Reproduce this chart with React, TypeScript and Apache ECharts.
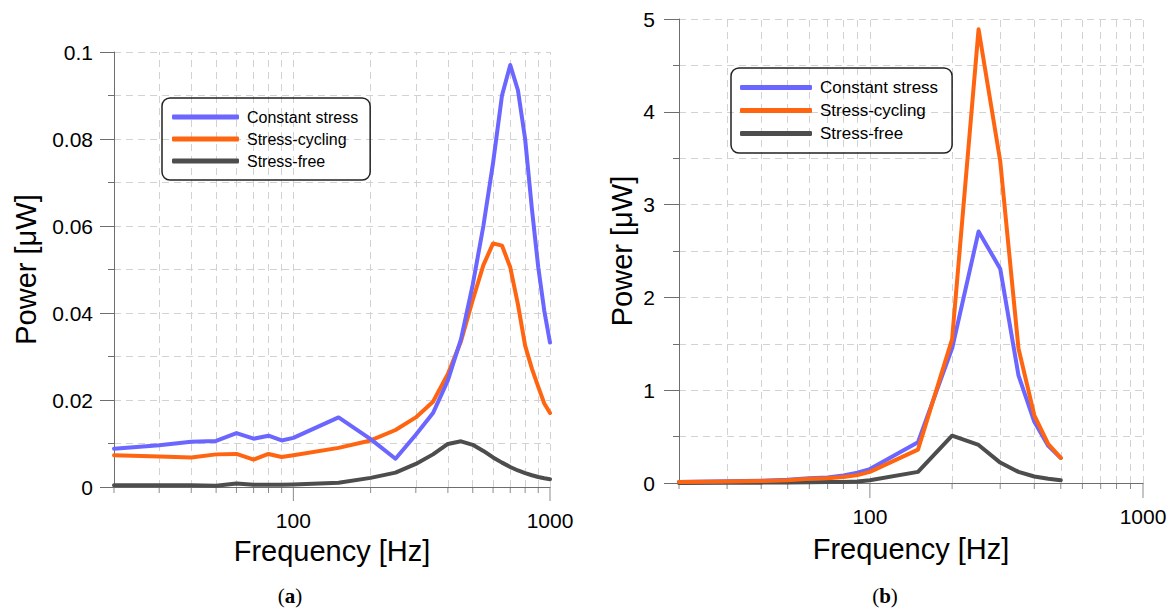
import React, { useEffect, useRef } from "react";
import * as echarts from "echarts";

// ---- data ----
const seriesNames = ["Constant stress", "Stress-cycling", "Stress-free"];
const seriesColors = ["#6b66ff", "#ff6510", "#4d4d4d"];

const freqA = [20, 30, 40, 50, 60, 70, 80, 90, 100, 150, 200, 250, 300, 350, 400, 450, 500, 550, 600, 650, 700, 750, 800, 850, 900, 950, 1000];
const constantA = [0.0088, 0.0096, 0.0104, 0.0106, 0.0124, 0.0111, 0.0118, 0.0107, 0.0113, 0.016, 0.011, 0.0065, 0.012, 0.017, 0.0245, 0.034, 0.0465, 0.06, 0.0745, 0.09, 0.097, 0.0912, 0.08, 0.064, 0.0505, 0.0405, 0.0332];
const cyclingA = [0.0073, 0.007, 0.0068, 0.0075, 0.0076, 0.0063, 0.0076, 0.0069, 0.0073, 0.009, 0.0107, 0.0131, 0.016, 0.0196, 0.026, 0.0335, 0.043, 0.051, 0.056, 0.0555, 0.0505, 0.042, 0.0325, 0.0272, 0.023, 0.0192, 0.017];
const freeA = [0.0004, 0.0004, 0.0004, 0.0003, 0.0008, 0.0005, 0.0005, 0.0005, 0.0006, 0.001, 0.0021, 0.0033, 0.0053, 0.0075, 0.0099, 0.0105, 0.0097, 0.0083, 0.0068, 0.0056, 0.0046, 0.0038, 0.0032, 0.0027, 0.0023, 0.002, 0.0018];

const freqB = [20, 30, 40, 50, 60, 70, 80, 90, 100, 150, 200, 250, 300, 350, 400, 450, 500];
const constantB = [0.012, 0.018, 0.025, 0.035, 0.05, 0.06, 0.08, 0.11, 0.15, 0.44, 1.45, 2.71, 2.31, 1.16, 0.66, 0.4, 0.27];
const cyclingB = [0.012, 0.017, 0.022, 0.03, 0.045, 0.05, 0.065, 0.085, 0.12, 0.36, 1.55, 4.89, 3.47, 1.45, 0.73, 0.42, 0.27];
const freeB = [0.0, 0.002, 0.004, 0.006, 0.008, 0.01, 0.012, 0.015, 0.03, 0.12, 0.51, 0.41, 0.22, 0.12, 0.07, 0.045, 0.03];

const gridFreqs = [30, 40, 50, 60, 70, 80, 90, 100, 200, 300, 400, 500, 600, 700, 800, 900, 1000];
const minorTickFreqs = [20, 30, 40, 50, 60, 70, 80, 90, 200, 300, 400, 500, 600, 700, 800, 900];
const majorTickFreqs = [100, 1000];
const xLabel = "Frequency [Hz]";
const yLabel = "Power [μW]";
const captions = ["a", "b"];

const AXIS_COLOR = "#6e6e6e";
const GRID_COLOR = "#d2d2d2";
const FONT = "'Liberation Sans', Arial, sans-serif";

function lineSeries(name: string, color: string, freqs: number[], vals: number[], idx: number) {
  return {
    type: "line",
    name,
    xAxisIndex: idx,
    yAxisIndex: idx,
    data: freqs.map((f, i) => [f, vals[i]]),
    showSymbol: false,
    symbol: "none",
    lineStyle: { width: 4, color, cap: "round", join: "round" },
    itemStyle: { color },
    z: 3,
  };
}

function helperSeries(idx: number, majorLen: number) {
  return [
    {
      type: "scatter",
      name: "minor-ticks-" + idx,
      xAxisIndex: idx,
      yAxisIndex: idx,
      data: minorTickFreqs.map((f) => [f, 0]),
      symbol: "rect",
      symbolSize: [1, 6],
      symbolOffset: [0, 3],
      itemStyle: { color: AXIS_COLOR },
      silent: true,
      clip: false,
      z: 2,
      markLine: {
        silent: true,
        symbol: ["none", "none"],
        label: { show: false },
        lineStyle: { color: GRID_COLOR, type: [7, 5], width: 1 },
        data: gridFreqs.map((f) => ({ xAxis: f })),
        z: 1,
      },
    },
    {
      type: "scatter",
      name: "major-ticks-" + idx,
      xAxisIndex: idx,
      yAxisIndex: idx,
      data: majorTickFreqs.map((f) => [f, 0]),
      symbol: "rect",
      symbolSize: [1, majorLen],
      symbolOffset: [0, majorLen / 2],
      itemStyle: { color: AXIS_COLOR },
      silent: true,
      clip: false,
      z: 2,
    },
  ];
}

function xAxis(idx: number, nameGap: number) {
  return {
    type: "log",
    logBase: 10,
    gridIndex: idx,
    min: 20,
    max: 1000,
    name: xLabel,
    nameLocation: "middle",
    nameGap,
    nameTextStyle: { fontSize: 29, color: "#000", fontFamily: FONT },
    axisLine: { show: true, lineStyle: { color: AXIS_COLOR, width: 1 } },
    axisTick: { show: false },
    splitLine: { show: false },
    minorTick: { show: false },
    axisLabel: {
      fontSize: 21,
      color: "#000",
      fontFamily: FONT,
      margin: 23,
      showMinLabel: true,
      showMaxLabel: true,
      formatter: (v: number) =>
        majorTickFreqs.some((m) => Math.abs(v - m) < 1e-6 * m) ? String(Math.round(v)) : "",
    },
  };
}

function yAxis(idx: number, max: number, interval: number, nameGap: number, tickLen: number, labelMargin: number) {
  return {
    type: "value",
    gridIndex: idx,
    min: 0,
    max,
    interval,
    name: yLabel,
    nameLocation: "middle",
    nameGap,
    nameRotate: 90,
    nameTextStyle: { fontSize: 29, color: "#000", fontFamily: FONT },
    axisLine: { show: true, lineStyle: { color: AXIS_COLOR, width: 1 } },
    axisTick: { show: true, length: tickLen, lineStyle: { color: AXIS_COLOR } },
    minorTick: { show: true, splitNumber: 2, length: 6, lineStyle: { color: AXIS_COLOR } },
    splitLine: { show: true, lineStyle: { color: GRID_COLOR, type: [7, 5], width: 1 } },
    minorSplitLine: { show: true, lineStyle: { color: GRID_COLOR, type: [7, 5], width: 1 } },
    axisLabel: { fontSize: 21, color: "#000", fontFamily: FONT, margin: labelMargin },
  };
}

function legend(left: number, top: number, fontSize: number, itemWidth: number, lineHeight: number, padding: number[]) {
  return {
    data: seriesNames,
    orient: "vertical",
    left,
    top,
    padding,
    itemGap: 4,
    itemWidth,
    itemHeight: 5,
    icon: "roundRect",
    selectedMode: false,
    borderColor: "#222",
    borderWidth: 1.5,
    borderRadius: 8,
    textStyle: { fontSize, lineHeight, color: "#000", fontFamily: FONT, padding: [0, 0, 0, 3] },
  };
}

function caption(letter: string, x: number, y: number) {
  return {
    type: "text",
    x,
    y,
    style: {
      text: "{p|(}{b|" + letter + "}{p|)}",
      align: "center",
      verticalAlign: "middle",
      rich: {
        p: { fontSize: 21, fontFamily: "'Liberation Serif', serif", fill: "#000" },
        b: { fontSize: 21, fontFamily: "'Liberation Serif', serif", fontWeight: "bold", fill: "#000" },
      },
    },
  };
}

export default function App() {
  const ref = useRef<HTMLDivElement>(null);
  useEffect(() => {
    if (!ref.current) return;
    const chart = echarts.init(ref.current, null, { renderer: "svg" });
    const option = {
      animation: false,
      backgroundColor: "#fff",
      textStyle: { fontFamily: FONT },
      grid: [
        { left: 114, top: 52, width: 436, height: 435 },
        { left: 679, top: 19, width: 464, height: 464 },
      ],
      xAxis: [xAxis(0, 49), xAxis(1, 51)],
      yAxis: [yAxis(0, 0.1, 0.02, 74, 14, 21), yAxis(1, 5, 1, 43, 15, 24)],
      legend: [
        legend(162, 98, 16, 67, 18, [10, 12, 10, 10]),
        legend(731, 68, 17, 72, 19, [10, 14, 10, 9]),
      ],
      graphic: [caption(captions[0], 290, 596), caption(captions[1], 885, 596)],
      series: [
        ...helperSeries(0, 14),
        ...helperSeries(1, 15),
        lineSeries(seriesNames[2], seriesColors[2], freqA, freeA, 0),
        lineSeries(seriesNames[1], seriesColors[1], freqA, cyclingA, 0),
        lineSeries(seriesNames[0], seriesColors[0], freqA, constantA, 0),
        lineSeries(seriesNames[2], seriesColors[2], freqB, freeB, 1),
        lineSeries(seriesNames[0], seriesColors[0], freqB, constantB, 1),
        lineSeries(seriesNames[1], seriesColors[1], freqB, cyclingB, 1),
      ],
    };
    chart.setOption(option as any);
    return () => chart.dispose();
  }, []);
  return (
    <div
      ref={ref}
      style={{ position: "absolute", left: 0, top: 0, width: 1175, height: 611, background: "#fff" }}
    />
  );
}
